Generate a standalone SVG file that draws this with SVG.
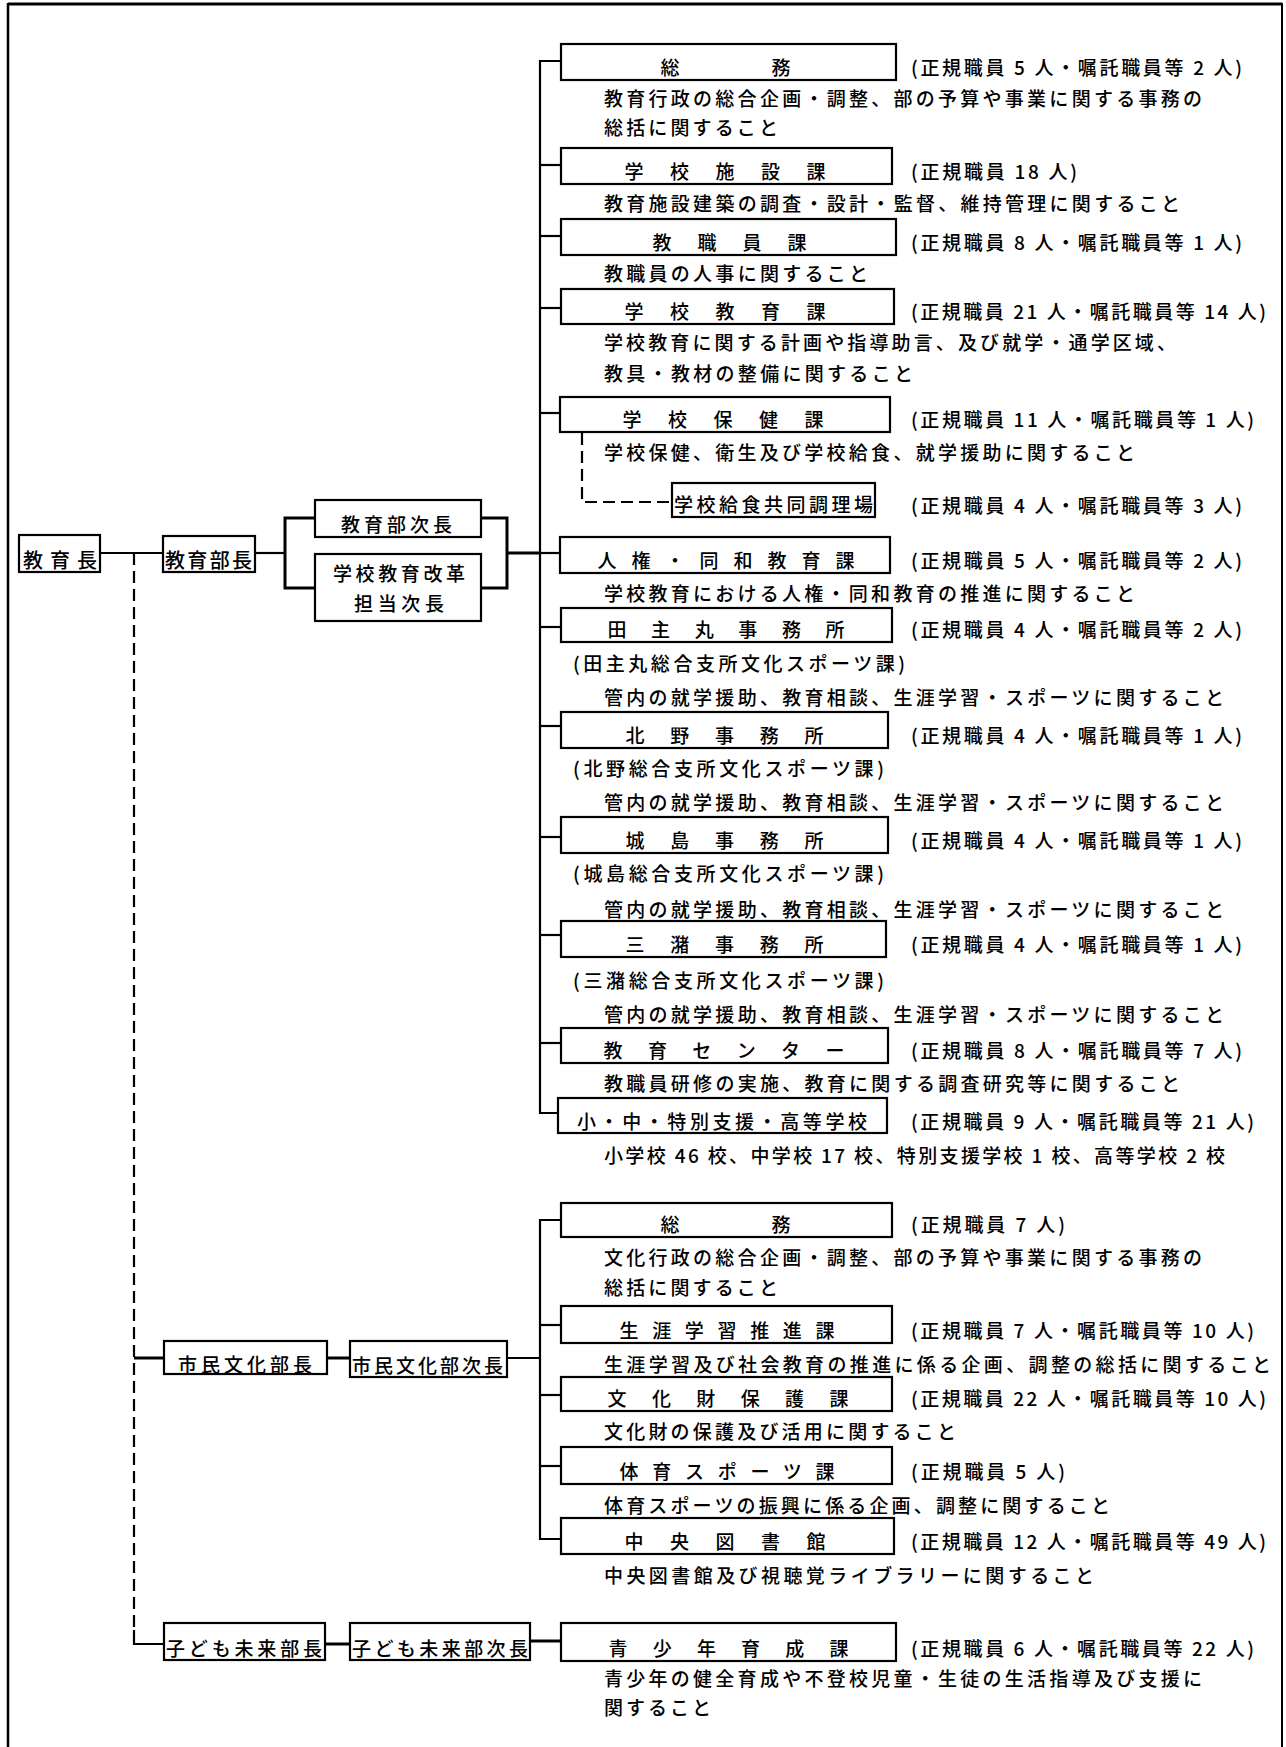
<svg xmlns="http://www.w3.org/2000/svg" width="1286" height="1747" viewBox="0 0 1286 1747">
<style>
.bg{fill:#fff}
.box{fill:#fff;stroke:#000;stroke-width:2.2}
.ln{fill:none;stroke:#000;stroke-width:2.2}
.thk{stroke-width:3}
.dash{stroke-dasharray:12 6}
.bd{fill:none;stroke:#000}
text{font-family:"Noto Sans CJK JP","Noto Sans CJK SC",sans-serif;font-size:19px;font-weight:500;fill:#000}
.big{font-size:20px}
</style>
<rect class="bg" x="0" y="0" width="1286" height="1747"/>
<g id="frame">
<line class="bd" x1="8" y1="4" x2="1282" y2="4" stroke-width="3"/>
<line class="bd" x1="8" y1="3" x2="8" y2="1747" stroke-width="2.5"/>
<line class="bd" x1="1282" y1="3" x2="1282" y2="1747" stroke-width="2"/>
</g>
<g id="connectors">
<line class="ln" x1="100" y1="553" x2="163" y2="553"/>
<path class="ln dash" d="M134,553 V1632"/>
<path class="ln" d="M134,1630 V1644 H164"/>
<line class="ln thk" x1="134" y1="1358" x2="164" y2="1358"/>
<line class="ln" x1="255" y1="553" x2="285" y2="553"/>
<path class="ln thk" d="M315,518 H285 V588 H315"/>
<path class="ln thk" d="M481,518 H507 V588 H481"/>
<line class="ln thk" x1="507" y1="553" x2="540" y2="553"/>
<path class="ln" d="M561,61 H540 V1113 H558"/>
<line class="ln" x1="540" y1="165" x2="561" y2="165"/>
<line class="ln" x1="540" y1="236" x2="561" y2="236"/>
<line class="ln" x1="540" y1="308" x2="561" y2="308"/>
<line class="ln" x1="540" y1="413" x2="560" y2="413"/>
<line class="ln" x1="540" y1="553" x2="560" y2="553"/>
<line class="ln" x1="540" y1="627" x2="561" y2="627"/>
<line class="ln" x1="540" y1="726" x2="561" y2="726"/>
<line class="ln" x1="540" y1="837" x2="561" y2="837"/>
<line class="ln" x1="540" y1="935" x2="561" y2="935"/>
<line class="ln" x1="540" y1="1043" x2="561" y2="1043"/>
<path class="ln dash" d="M582,433 V502 H672"/>
<path class="ln" d="M561,1220 H540 V1539 H561"/>
<line class="ln" x1="540" y1="1325" x2="561" y2="1325"/>
<line class="ln" x1="540" y1="1395" x2="561" y2="1395"/>
<line class="ln" x1="540" y1="1466" x2="561" y2="1466"/>
<line class="ln thk" x1="327" y1="1358" x2="350" y2="1358"/>
<line class="ln" x1="507" y1="1358" x2="540" y2="1358"/>
<line class="ln thk" x1="325" y1="1644" x2="350" y2="1644"/>
<line class="ln thk" x1="530" y1="1641" x2="561" y2="1641"/>
</g>
<g id="kyouikuchou">
<rect class="box" x="19" y="535" width="81" height="37"/>
<text class="big" x="23" y="568" textLength="74" lengthAdjust="spacing">教育長</text>
</g>
<g id="kyouikubuchou">
<rect class="box" x="163" y="536" width="92" height="36"/>
<text class="big" x="165" y="568" textLength="87" lengthAdjust="spacing">教育部長</text>
</g>
<g id="kyouikubujichou">
<rect class="box" x="315" y="500" width="166" height="37"/>
<text x="341" y="532" textLength="111" lengthAdjust="spacing">教育部次長</text>
</g>
<g id="kaikaku-jichou">
<rect class="box" x="315" y="554" width="166" height="67"/>
<text x="333" y="581" textLength="132" lengthAdjust="spacing">学校教育改革</text>
<text x="354" y="611" textLength="90" lengthAdjust="spacing">担当次長</text>
</g>
<g id="soumu1">
<rect class="box" x="561" y="44" width="335" height="36"/>
<text x="660.5" y="75" textLength="130" lengthAdjust="spacing">総務</text>
<text x="911" y="75" textLength="331" lengthAdjust="spacing">(正規職員 5 人・嘱託職員等 2 人)</text>
<text x="604" y="106" textLength="598" lengthAdjust="spacing">教育行政の総合企画・調整、部の予算や事業に関する事務の</text>
<text x="604" y="135" textLength="174" lengthAdjust="spacing">総括に関すること</text>
</g>
<g id="gakkoushisetsu">
<rect class="box" x="561" y="148" width="331" height="36"/>
<text x="624.5" y="179" textLength="201" lengthAdjust="spacing">学校施設課</text>
<text x="911" y="179" textLength="166" lengthAdjust="spacing">(正規職員 18 人)</text>
<text x="604" y="211" textLength="576" lengthAdjust="spacing">教育施設建築の調査・設計・監督、維持管理に関すること</text>
</g>
<g id="kyoushokuin">
<rect class="box" x="561" y="219" width="335" height="36"/>
<text x="652.5" y="250" textLength="154" lengthAdjust="spacing">教職員課</text>
<text x="911" y="250" textLength="331" lengthAdjust="spacing">(正規職員 8 人・嘱託職員等 1 人)</text>
<text x="604" y="281" textLength="264" lengthAdjust="spacing">教職員の人事に関すること</text>
</g>
<g id="gakkoukyouiku">
<rect class="box" x="561" y="289" width="333" height="35"/>
<text x="624.5" y="319" textLength="201" lengthAdjust="spacing">学校教育課</text>
<text x="911" y="319" textLength="355" lengthAdjust="spacing">(正規職員 21 人・嘱託職員等 14 人)</text>
<text x="604" y="350" textLength="572" lengthAdjust="spacing">学校教育に関する計画や指導助言、及び就学・通学区域、</text>
<text x="604" y="381" textLength="309" lengthAdjust="spacing">教具・教材の整備に関すること</text>
</g>
<g id="gakkouhoken">
<rect class="box" x="560" y="397" width="330" height="35"/>
<text x="622.5" y="427" textLength="201" lengthAdjust="spacing">学校保健課</text>
<text x="911" y="427" textLength="343" lengthAdjust="spacing">(正規職員 11 人・嘱託職員等 1 人)</text>
<text x="604" y="460" textLength="531" lengthAdjust="spacing">学校保健、衛生及び学校給食、就学援助に関すること</text>
</g>
<g id="kyuushoku">
<rect class="box" x="672" y="483" width="203" height="34"/>
<text x="674" y="512" textLength="199" lengthAdjust="spacing">学校給食共同調理場</text>
<text x="911" y="513" textLength="331" lengthAdjust="spacing">(正規職員 4 人・嘱託職員等 3 人)</text>
</g>
<g id="jinken">
<rect class="box" x="560" y="537" width="330" height="36"/>
<text x="597.5" y="568" textLength="257" lengthAdjust="spacing">人権・同和教育課</text>
<text x="911" y="568" textLength="331" lengthAdjust="spacing">(正規職員 5 人・嘱託職員等 2 人)</text>
<text x="604" y="601" textLength="531" lengthAdjust="spacing">学校教育における人権・同和教育の推進に関すること</text>
</g>
<g id="tanushimaru">
<rect class="box" x="561" y="608" width="331" height="34"/>
<text x="607.5" y="637" textLength="237" lengthAdjust="spacing">田主丸事務所</text>
<text x="911" y="637" textLength="331" lengthAdjust="spacing">(正規職員 4 人・嘱託職員等 2 人)</text>
<text x="573" y="671" textLength="332" lengthAdjust="spacing">(田主丸総合支所文化スポーツ課)</text>
<text x="604" y="705" textLength="620" lengthAdjust="spacing">管内の就学援助、教育相談、生涯学習・スポーツに関すること</text>
</g>
<g id="kitano">
<rect class="box" x="561" y="712" width="327" height="36"/>
<text x="625.5" y="743" textLength="198" lengthAdjust="spacing">北野事務所</text>
<text x="911" y="743" textLength="331" lengthAdjust="spacing">(正規職員 4 人・嘱託職員等 1 人)</text>
<text x="573" y="776" textLength="311" lengthAdjust="spacing">(北野総合支所文化スポーツ課)</text>
<text x="604" y="810" textLength="620" lengthAdjust="spacing">管内の就学援助、教育相談、生涯学習・スポーツに関すること</text>
</g>
<g id="jojima">
<rect class="box" x="561" y="817" width="327" height="36"/>
<text x="625.5" y="848" textLength="198" lengthAdjust="spacing">城島事務所</text>
<text x="911" y="848" textLength="331" lengthAdjust="spacing">(正規職員 4 人・嘱託職員等 1 人)</text>
<text x="573" y="881" textLength="311" lengthAdjust="spacing">(城島総合支所文化スポーツ課)</text>
<text x="604" y="917" textLength="620" lengthAdjust="spacing">管内の就学援助、教育相談、生涯学習・スポーツに関すること</text>
</g>
<g id="mizuma">
<rect class="box" x="561" y="921" width="325" height="36"/>
<text x="625.5" y="952" textLength="198" lengthAdjust="spacing">三潴事務所</text>
<text x="911" y="952" textLength="331" lengthAdjust="spacing">(正規職員 4 人・嘱託職員等 1 人)</text>
<text x="573" y="988" textLength="311" lengthAdjust="spacing">(三潴総合支所文化スポーツ課)</text>
<text x="604" y="1022" textLength="620" lengthAdjust="spacing">管内の就学援助、教育相談、生涯学習・スポーツに関すること</text>
</g>
<g id="kyouikucenter">
<rect class="box" x="561" y="1028" width="327" height="35"/>
<text x="603.5" y="1058" textLength="241" lengthAdjust="spacing">教育センター</text>
<text x="911" y="1058" textLength="331" lengthAdjust="spacing">(正規職員 8 人・嘱託職員等 7 人)</text>
<text x="604" y="1091" textLength="576" lengthAdjust="spacing">教職員研修の実施、教育に関する調査研究等に関すること</text>
</g>
<g id="gakkou">
<rect class="box" x="558" y="1098" width="329" height="35"/>
<text x="577" y="1129" textLength="290" lengthAdjust="spacing">小・中・特別支援・高等学校</text>
<text x="911" y="1129" textLength="343" lengthAdjust="spacing">(正規職員 9 人・嘱託職員等 21 人)</text>
<text x="604" y="1163" textLength="621" lengthAdjust="spacing">小学校 46 校、中学校 17 校、特別支援学校 1 校、高等学校 2 校</text>
</g>
<g id="shimin-buchou">
<rect class="box" x="164" y="1341" width="163" height="33"/>
<text x="178" y="1372" textLength="134" lengthAdjust="spacing">市民文化部長</text>
</g>
<g id="shimin-jichou">
<rect class="box" x="350" y="1341" width="157" height="36"/>
<text x="352" y="1373" textLength="151" lengthAdjust="spacing">市民文化部次長</text>
</g>
<g id="soumu2">
<rect class="box" x="561" y="1203" width="331" height="34"/>
<text x="660.5" y="1232" textLength="130" lengthAdjust="spacing">総務</text>
<text x="911" y="1232" textLength="154" lengthAdjust="spacing">(正規職員 7 人)</text>
<text x="604" y="1265" textLength="598" lengthAdjust="spacing">文化行政の総合企画・調整、部の予算や事業に関する事務の</text>
<text x="604" y="1295" textLength="174" lengthAdjust="spacing">総括に関すること</text>
</g>
<g id="shougai">
<rect class="box" x="561" y="1306" width="331" height="37"/>
<text x="619.5" y="1338" textLength="215" lengthAdjust="spacing">生涯学習推進課</text>
<text x="911" y="1338" textLength="343" lengthAdjust="spacing">(正規職員 7 人・嘱託職員等 10 人)</text>
<text x="604" y="1372" textLength="667" lengthAdjust="spacing">生涯学習及び社会教育の推進に係る企画、調整の総括に関すること</text>
</g>
<g id="bunkazai">
<rect class="box" x="561" y="1377" width="331" height="34"/>
<text x="607.5" y="1406" textLength="241" lengthAdjust="spacing">文化財保護課</text>
<text x="911" y="1406" textLength="355" lengthAdjust="spacing">(正規職員 22 人・嘱託職員等 10 人)</text>
<text x="604" y="1439" textLength="352" lengthAdjust="spacing">文化財の保護及び活用に関すること</text>
</g>
<g id="taiiku">
<rect class="box" x="561" y="1447" width="331" height="37"/>
<text x="619.5" y="1479" textLength="215" lengthAdjust="spacing">体育スポーツ課</text>
<text x="911" y="1479" textLength="154" lengthAdjust="spacing">(正規職員 5 人)</text>
<text x="604" y="1513" textLength="506" lengthAdjust="spacing">体育スポーツの振興に係る企画、調整に関すること</text>
</g>
<g id="toshokan">
<rect class="box" x="561" y="1518" width="333" height="36"/>
<text x="624.5" y="1549" textLength="201" lengthAdjust="spacing">中央図書館</text>
<text x="911" y="1549" textLength="355" lengthAdjust="spacing">(正規職員 12 人・嘱託職員等 49 人)</text>
<text x="604" y="1583" textLength="490" lengthAdjust="spacing">中央図書館及び視聴覚ライブラリーに関すること</text>
</g>
<g id="kodomo-buchou">
<rect class="box" x="164" y="1623" width="161" height="37"/>
<text x="166" y="1656" textLength="156" lengthAdjust="spacing">子ども未来部長</text>
</g>
<g id="kodomo-jichou">
<rect class="box" x="350" y="1623" width="180" height="37"/>
<text x="352" y="1656" textLength="176" lengthAdjust="spacing">子ども未来部次長</text>
</g>
<g id="seishounen">
<rect class="box" x="561" y="1623" width="335" height="38"/>
<text x="608.5" y="1656" textLength="240" lengthAdjust="spacing">青少年育成課</text>
<text x="911" y="1656" textLength="343" lengthAdjust="spacing">(正規職員 6 人・嘱託職員等 22 人)</text>
<text x="604" y="1686" textLength="598" lengthAdjust="spacing">青少年の健全育成や不登校児童・生徒の生活指導及び支援に</text>
<text x="604" y="1715" textLength="107" lengthAdjust="spacing">関すること</text>
</g>
</svg>
